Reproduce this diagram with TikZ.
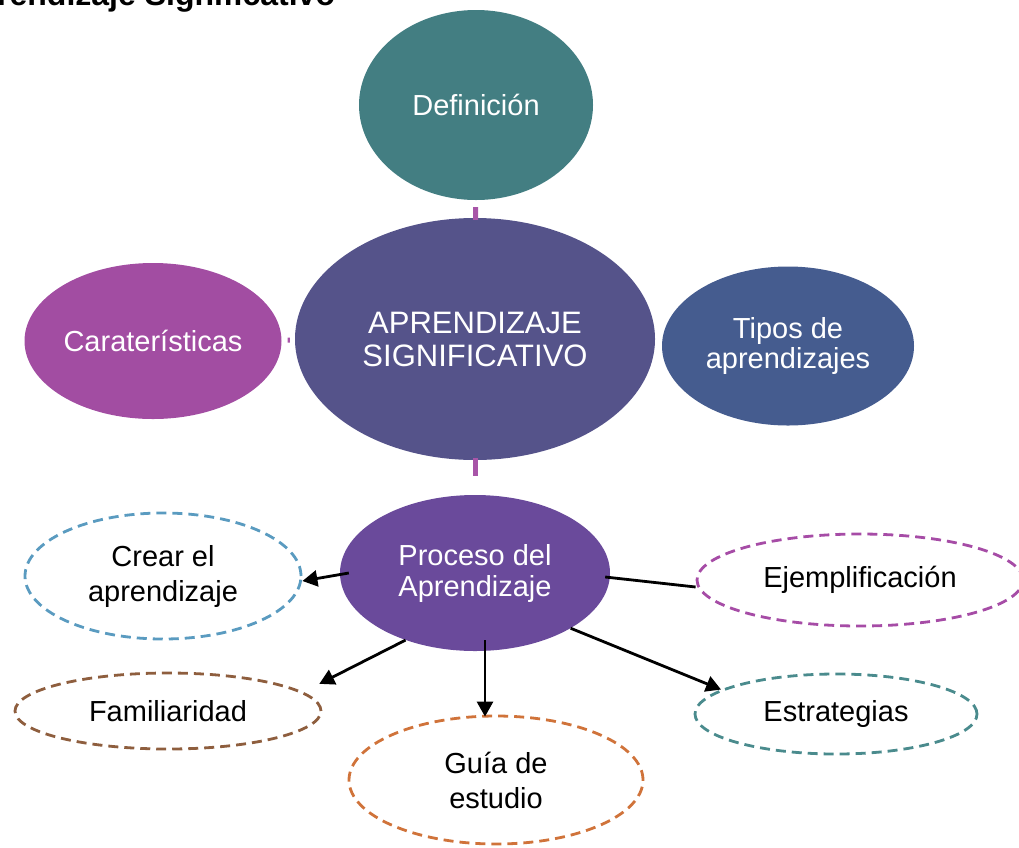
\documentclass[tikz,border=0pt]{standalone}
\usepackage{fontspec}
\setmainfont{Liberation Sans}
\usetikzlibrary{shapes.geometric,arrows.meta}
\definecolor{cdef}{HTML}{437E82}
\definecolor{ccen}{HTML}{55538A}
\definecolor{ccar}{HTML}{A24DA2}
\definecolor{ctip}{HTML}{455C8F}
\definecolor{cpro}{HTML}{6A4A9B}
\definecolor{ccre}{HTML}{5A9BC0}
\definecolor{ceje}{HTML}{A64CA6}
\definecolor{cfam}{HTML}{8E5E3E}
\definecolor{cest}{HTML}{4A8B8D}
\definecolor{cgui}{HTML}{D0733A}
\definecolor{cmag}{HTML}{A855A8}
\tikzset{
  fillell/.style={ellipse, inner sep=0pt, text=white, align=center,
    font=\fontsize{29}{32}\selectfont},
  dashell/.style={ellipse, inner sep=0pt, draw=#1, line width=2.8pt,
    dash pattern=on 10pt off 6pt, text=black, align=center,
    font=\fontsize{29}{35}\selectfont},
  magline/.style={draw=cmag, line width=5pt},
  arr/.style={draw=black, line width=2.8pt, -{Triangle[length=15pt,width=16pt]}},
  plainline/.style={draw=black, line width=2.8pt}
}
\begin{document}
\begin{tikzpicture}[x=1pt,y=-1pt]
\useasboundingbox (0,0) rectangle (1019,847);
\node[anchor=base west, font=\bfseries\fontsize{32}{34}\selectfont, inner sep=0pt] (title) at (-3,5) {rendizaje Significativo};

\node[fillell, fill=cdef, minimum width=234pt, minimum height=190pt] (def) at (476,105) {Definición};
\node[fillell, fill=ccen, minimum width=360pt, minimum height=242pt, font=\fontsize{31}{33}\selectfont] (cen) at (475,339) {APRENDIZAJE\\SIGNIFICATIVO};
\node[fillell, fill=ccar, minimum width=257pt, minimum height=156pt] (car) at (153,341) {Caraterísticas};
\node[fillell, fill=ctip, minimum width=252pt, minimum height=159pt, font=\fontsize{29}{30}\selectfont] (tip) at (788,346) {Tipos de\\aprendizajes};
\node[fillell, fill=cpro, minimum width=270pt, minimum height=156pt, font=\fontsize{29}{31}\selectfont] (pro) at (475,573) {Proceso del\\Aprendizaje};

\node[dashell=ccre, minimum width=276pt, minimum height=126pt] (cre) at (163,576) {Crear el\\aprendizaje};
\node[dashell=ceje, minimum width=326pt, minimum height=92pt] (eje) at (860,580) {Ejemplificación};
\node[dashell=cfam, minimum width=306pt, minimum height=76pt] (fam) at (168,711) {Familiaridad};
\node[dashell=cest, minimum width=282pt, minimum height=80pt] (est) at (836,714) {Estrategias};
\node[dashell=cgui, minimum width=294pt, minimum height=128pt] (gui) at (496,780) {Guía de\\estudio};

\draw[magline, shorten <=7pt, shorten >=-2pt] (def) -- (cen);
\draw[magline, shorten <=6pt, shorten >=5pt] (car) -- (cen);
\draw[magline, shorten <=-2pt, shorten >=19pt] (cen) -- (pro);

\draw[arr] ([xshift=9pt]pro.west) -- ([yshift=-5pt]cre.east);
\draw[plainline] ([xshift=-5pt,yshift=-4pt]pro.east) -- ([yshift=-7pt]eje.west);
\draw[arr, shorten >=18pt] (pro.-136) -- (fam.8);
\draw[arr] ([xshift=10pt,yshift=11pt]pro.south) -- ([xshift=-11pt,yshift=-2pt]gui.north);
\draw[arr] (pro.-30) -- (est.168);
\end{tikzpicture}
\end{document}
